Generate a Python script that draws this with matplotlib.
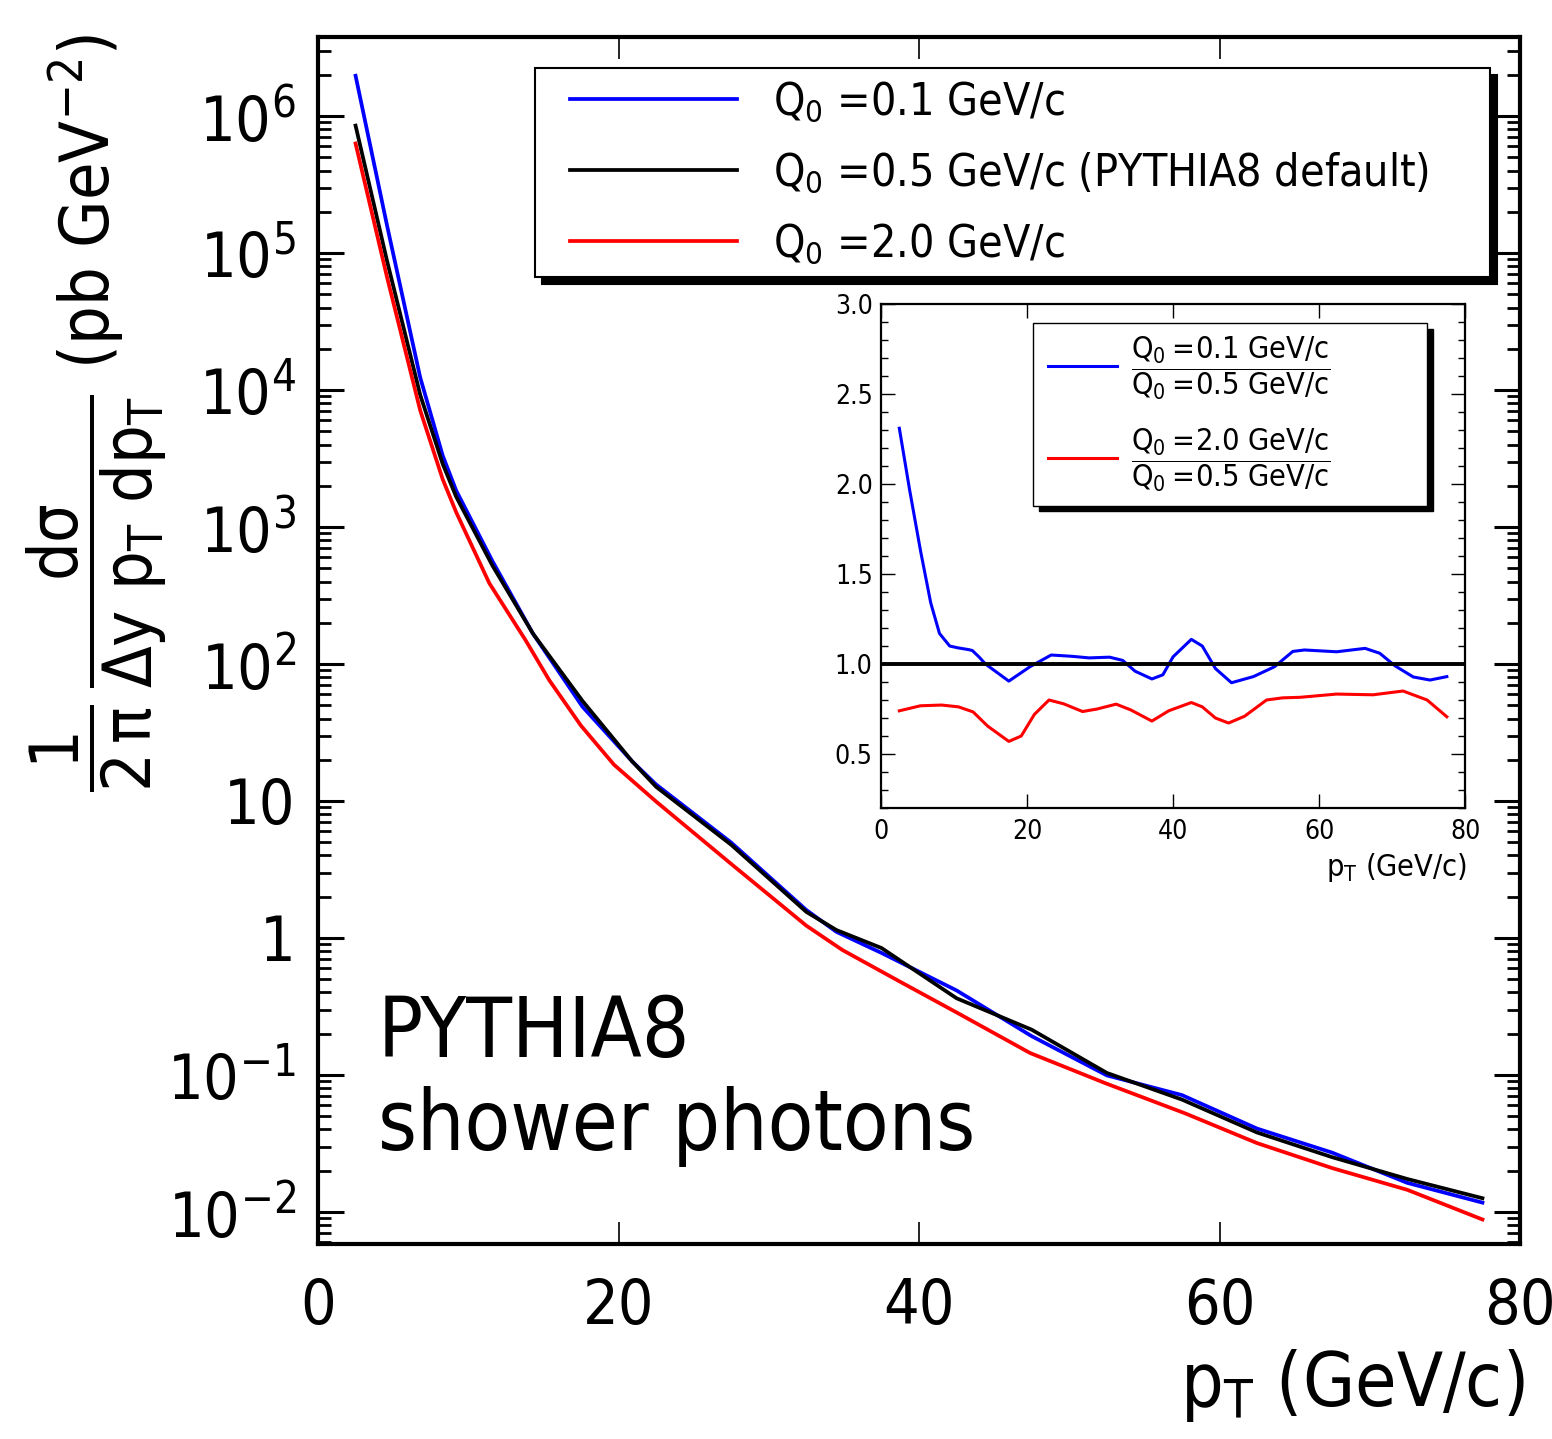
import matplotlib
matplotlib.use("Agg")
from matplotlib import pyplot as plt
from matplotlib.legend_handler import HandlerLine2D
from matplotlib.ticker import FixedLocator, FixedFormatter, LogLocator, MultipleLocator, NullFormatter

# invariant cross sections (pb GeV^-2) vs pT (GeV/c)
pt_q01 = [2.5, 4.6, 6.8, 8.3, 9.2, 11.6, 14.3, 17.6, 20.9, 22.5, 27.5, 32.5,
          34.5, 37.5, 42.5, 47.5, 52.5, 57.5, 62.5, 67.5, 72.5, 77.5]
xsec_q01 = [1.968e6, 1.578e5, 1.236e4, 3319, 1841, 566, 167, 48.8, 19.5, 13.2, 4.97,
            1.60, 1.109, 0.778, 0.414, 0.192, 0.0993, 0.0713, 0.0406, 0.0271,
            0.0163, 0.0117]

pt_q05 = [2.5, 4.6, 6.8, 8.3, 9.2, 11.6, 14.3, 17.6, 20.9, 22.5, 27.5, 32.5,
          34.5, 37.5, 42.5, 47.5, 52.5, 57.5, 62.5, 67.5, 72.5, 77.5]
xsec_q05 = [8.51e5, 8.71e4, 9226, 2884, 1660, 525, 167, 53.8, 19.5, 12.7, 4.79,
            1.55, 1.143, 0.845, 0.363, 0.214, 0.1035, 0.0661, 0.0380, 0.0251,
            0.0174, 0.0126]

pt_q20 = [2.5, 4.6, 6.8, 8.3, 9.2, 11.4, 13.8, 15.4, 17.5, 19.7, 22.5, 27.5, 32.5,
          34.9, 38.7, 42.5, 47.4, 52.4, 57.7, 62.5, 67.5, 72.5, 77.5]
xsec_q20 = [6.30e5, 6.62e4, 7112, 2228, 1279, 389, 150, 75.9, 35.5, 18.4, 9.91, 3.47,
            1.23, 0.817, 0.482, 0.286, 0.1445, 0.0871, 0.0525, 0.0318, 0.0209,
            0.0145, 0.00881]

# ratios shown in the inset
ratio01_pt = [2.5, 3.9, 5.4, 6.8, 8.0, 9.4, 10.5, 12.0, 12.5, 13.4, 14.3, 17.5, 20.4, 23.3,
              26.1, 28.5, 31.3, 33.1, 34.8, 37.1, 38.6, 40.0, 42.5, 44.0, 45.8, 48.0,
              51.0, 53.9, 56.4, 58.0, 62.4, 66.3, 68.3, 70.4, 72.9, 75.2, 77.5]
ratio01 = [2.31, 1.97, 1.63, 1.34, 1.17, 1.10, 1.09, 1.08, 1.075, 1.04, 1.00, 0.905, 0.985, 1.05,
           1.043, 1.034, 1.038, 1.02, 0.96, 0.917, 0.94, 1.04, 1.137, 1.10, 0.975, 0.896,
           0.93, 0.985, 1.07, 1.078, 1.068, 1.087, 1.06, 0.99, 0.928, 0.911, 0.93]
ratio20_pt = [2.5, 5.4, 8.3, 10.6, 12.6, 14.6, 17.5, 19.2, 21.0, 23.0, 25.0, 27.6, 29.6, 32.2,
              34.2, 37.1, 39.4, 42.5, 44.0, 45.8, 47.6, 49.8, 52.8, 55.0, 57.4, 62.4,
              67.4, 71.5, 74.8, 77.5]
ratio20 = [0.74, 0.768, 0.772, 0.762, 0.734, 0.655, 0.57, 0.60, 0.72, 0.80, 0.779, 0.736, 0.75, 0.777,
           0.745, 0.683, 0.74, 0.786, 0.762, 0.70, 0.672, 0.71, 0.80, 0.812, 0.815, 0.833,
           0.829, 0.85, 0.80, 0.707]

ytick_vals = [1e-2, 1e-1, 1, 10, 1e2, 1e3, 1e4, 1e5, 1e6]
ytick_labels = [r'$10^{-2}$', r'$10^{-1}$', '1', '10', r'$10^{2}$', r'$10^{3}$',
                r'$10^{4}$', r'$10^{5}$', r'$10^{6}$']

plt.rcParams['font.family'] = ['DejaVu Sans']
plt.rcParams['font.stretch'] = 'condensed'
plt.rcParams['mathtext.default'] = 'regular'

fig = plt.figure(figsize=(15.52, 14.39), dpi=100)
ax = fig.add_axes([0.2049, 0.1355, 0.7745, 0.8388])

lw = 2.7
ax.plot(pt_q01, xsec_q01, color='#0000ff', lw=lw, label=r'$Q_0$ =0.1 GeV/c')
ax.plot(pt_q05, xsec_q05, color='black', lw=lw, label=r'$Q_0$ =0.5 GeV/c (PYTHIA8 default)')
ax.plot(pt_q20, xsec_q20, color='#ff0000', lw=lw, label=r'$Q_0$ =2.0 GeV/c')

ax.set_yscale('log')
ax.set_xlim(0, 80)
ax.set_ylim(10**-2.234, 10**6.577)

ax.xaxis.set_major_locator(MultipleLocator(20))
ax.yaxis.set_major_locator(FixedLocator(ytick_vals))
ax.yaxis.set_major_formatter(FixedFormatter(ytick_labels))
ax.yaxis.set_minor_locator(LogLocator(base=10, subs=range(2, 10), numticks=30))
ax.yaxis.set_minor_formatter(NullFormatter())

for s in ax.spines.values():
    s.set_linewidth(3.0)
ax.tick_params(axis='x', which='major', direction='in', top=True, length=16, width=1.2,
               labelsize=45, pad=24)
ax.tick_params(axis='y', which='major', direction='in', right=True, length=19, width=2.2,
               labelsize=45, pad=16)
ax.tick_params(axis='y', which='minor', direction='in', right=True, length=9.5, width=2.0)

ax.set_xlabel(r'$p_T$ (GeV/c)', fontsize=54, loc='right')
ax.xaxis.set_label_coords(1.004, -0.117)
ax.xaxis.label.set_va('center')

fig.text(0.0625, 0.976,
         r'$\dfrac{1}{2\,\pi}\,\dfrac{d\sigma}{\Delta y\ p_T\ dp_T}$ (pb GeV$^{-2}$)',
         rotation=90, ha='center', va='top', fontsize=49)

ax.text(0.05, 0.155, 'PYTHIA8', transform=ax.transAxes, fontsize=60, va='baseline')
ax.text(0.05, 0.078, 'shower photons', transform=ax.transAxes, fontsize=60, va='baseline')

leg = ax.legend(loc='upper left', bbox_to_anchor=(0.1805, 0.80, 0.7945, 0.1743), mode='expand',
                borderaxespad=0, fontsize=32, fancybox=False, edgecolor='black', framealpha=1,
                handlelength=4.29, handletextpad=0.81, borderpad=0.26, labelspacing=0.59,
                handler_map={matplotlib.lines.Line2D: HandlerLine2D(xpad=0.53)},
                shadow={'color': 'black', 'alpha': 1, 'ox': 5, 'oy': -5})
leg.get_frame().set_linewidth(1.5)

# inset with ratios
ins = fig.add_axes([0.5677, 0.4385, 0.3763, 0.3502])
ins.plot(ratio01_pt, ratio01, color='#0000ff', lw=2.2,
         label=r'$\dfrac{Q_0 =\!0.1\ GeV/c}{Q_0 =\!0.5\ GeV/c}$')
ins.plot(ratio20_pt, ratio20, color='#ff0000', lw=2.2,
         label=r'$\dfrac{Q_0 =\!2.0\ GeV/c}{Q_0 =\!0.5\ GeV/c}$')
ins.axhline(1.0, color='black', lw=2.8)
ins.set_xlim(0, 80)
ins.set_ylim(0.2, 3.0)
ins.xaxis.set_major_locator(MultipleLocator(20))
ins.yaxis.set_major_locator(MultipleLocator(0.5))
ins.yaxis.set_minor_locator(MultipleLocator(0.1))
for s in ins.spines.values():
    s.set_linewidth(1.6)
ins.tick_params(axis='x', which='major', direction='in', top=True, length=10, width=1.0,
                labelsize=19, pad=8)
ins.tick_params(axis='y', which='major', direction='in', right=True, length=10, width=1.0,
                labelsize=19, pad=6)
ins.tick_params(axis='y', which='minor', direction='in', right=True, length=5, width=1.0)
ins.set_xlabel(r'$p_T$ (GeV/c)', fontsize=22, loc='right')
ins.xaxis.set_label_coords(1.004, -0.119)
ins.xaxis.label.set_va('center')

leg2 = ins.legend(loc='upper left', bbox_to_anchor=(0.2603, 0.5, 0.6747, 0.4623), mode='expand',
                  borderaxespad=0, fontsize=22, fancybox=False, edgecolor='black', framealpha=1,
                  handlelength=2.35, handletextpad=0.46, borderpad=0.38, labelspacing=0.78,
                  handler_map={matplotlib.lines.Line2D: HandlerLine2D(xpad=0.1)},
                  shadow={'color': 'black', 'alpha': 1, 'ox': 4, 'oy': -4})
leg2.get_frame().set_linewidth(1.0)

fig.savefig('out.png', dpi=100)
